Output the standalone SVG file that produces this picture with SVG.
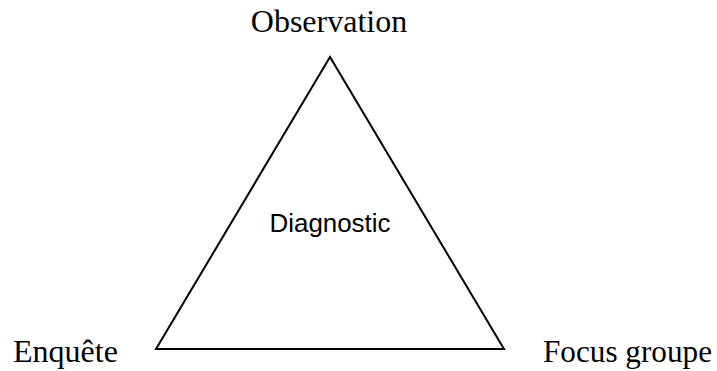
<svg xmlns="http://www.w3.org/2000/svg" width="717" height="371" viewBox="0 0 717 371">
<style>
.lbl{font-family:"Liberation Serif","Times New Roman",serif;font-size:32px;fill:#000}
.in{font-family:"Liberation Sans",Arial,sans-serif;font-size:26px;fill:#000}
.tri{fill:none;stroke:#000;stroke-width:2}
</style>
<rect width="717" height="371" fill="#fff"/>
<g id="connectors">
<polygon class="tri" points="330,57 156,349 504,349"/>
</g>
<g id="observation"><text class="lbl" x="329" y="32" text-anchor="middle">Observation</text></g>
<g id="enquete"><text class="lbl" x="13" y="362">Enquête</text></g>
<g id="focus"><text class="lbl" x="543" y="362" textLength="169" lengthAdjust="spacingAndGlyphs">Focus groupe</text></g>
<g id="diagnostic"><text class="in" x="330" y="232" text-anchor="middle" textLength="121" lengthAdjust="spacingAndGlyphs">Diagnostic</text></g>
</svg>
